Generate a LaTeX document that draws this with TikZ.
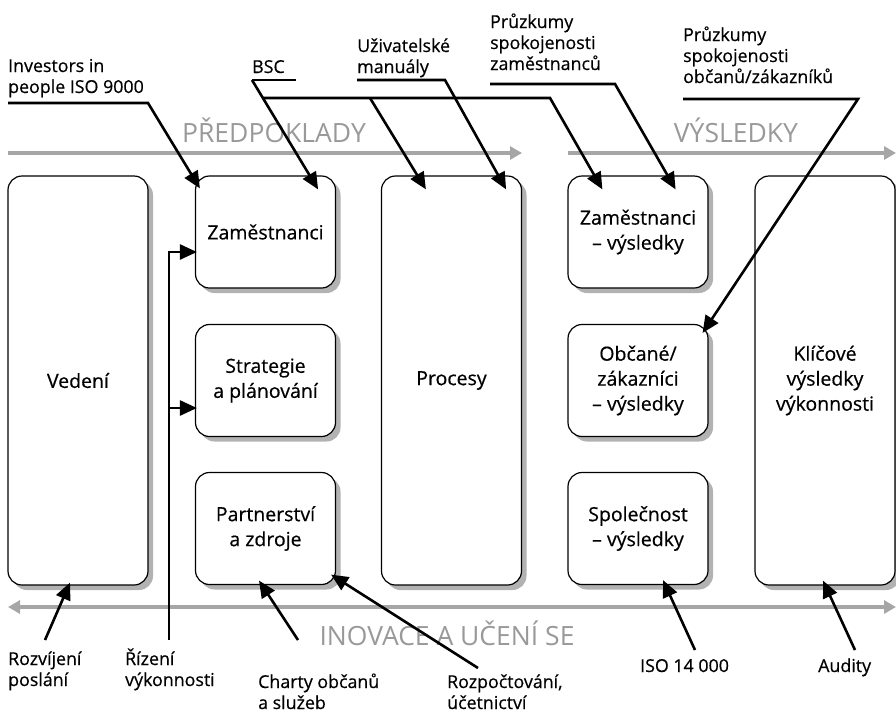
\documentclass[tikz,border=0pt]{standalone}
\usepackage{fontspec}
\setmainfont{Open Sans}
\newfontfamily\darkfamily[UprightFeatures={FakeBold=0.5}]{Open Sans}
\usepackage{tikz}
\usetikzlibrary{arrows.meta,calc,shadows}

\newcommand{\boxfont}{\darkfamily\fontsize{19.5}{25}\selectfont}
\newcommand{\lblfont}{\darkfamily\fontsize{17.8}{21}\selectfont}
\newcommand{\phasefont}{\fontsize{26.5}{30}\selectfont}

\tikzset{
  box/.style={draw, line width=1.2pt, rounded corners=14pt, fill=white,
    minimum width=140pt, align=center, font=\boxfont,
    drop shadow={shadow xshift=5pt, shadow yshift=-5pt, fill=black!30, opacity=1}},
  smallbox/.style={box, minimum height=112pt},
  tallbox/.style={box, minimum height=409pt},
  conn/.style={line width=2.6pt, -{Triangle[length=17pt,width=15pt]}},
  plain/.style={line width=2.6pt},
  lbl/.style={align=left, inner sep=0pt, font=\lblfont, anchor=base west},
  flow/.style={line width=4pt, draw=black!35, -{Triangle[length=12pt,width=13pt]}},
  phase/.style={text=black!40, font=\phasefont, inner sep=0pt, anchor=base}
}

\begin{document}
\begin{tikzpicture}[x=1pt,y=-1pt]
\useasboundingbox (0,0) rectangle (896,713);

% flows
\draw[flow] (8,153) -- (522,153);
\draw[flow] (568,153) -- (896,153);
\draw[flow, {Triangle[length=12pt,width=13pt]}-{Triangle[length=12pt,width=13pt]}] (8,607) -- (896,607);
\node[phase] (pred) at (274,142) {PŘEDPOKLADY};
\node[phase] (vysl) at (736,142) {VÝSLEDKY};
\node[phase] (inov) at (447,645) {INOVACE A UČENÍ SE};

% boxes
\node[tallbox] (vedeni) at (78,380.5) {Vedení};
\node[smallbox] (zam) at (265.5,232) {Zaměstnanci};
\node[smallbox] (strat) at (265.5,380.5) {Strategie\\a plánování};
\node[smallbox] (partner) at (265.5,528.5) {Partnerství\\a zdroje};
\node[tallbox] (proc) at (451.5,380.5) {Procesy};
\node[smallbox] (zamv) at (638,232) {Zaměstnanci\\– výsledky};
\node[smallbox] (obc) at (638,380.5) {Občané/\\zákazníci\\– výsledky};
\node[smallbox] (spol) at (638,528.5) {Společnost\\– výsledky};
\node[tallbox] (klic) at (825,380.5) {Klíčové\\výsledky\\výkonnosti};

% labels top (base = last line)
\node[lbl] (investors) at (8,93) {Investors in\\people ISO 9000};
\node[lbl] (bsc) at (252,73) {BSC};
\node[lbl] (manualy) at (357,73) {Uživatelské\\manuály};
\node[lbl] (pruzam) at (490,70) {Průzkumy\\spokojenosti\\zaměstnanců};
\node[lbl] (pruobc) at (683,83) {Průzkumy\\spokojenosti\\občanů/zákazníků};

% labels bottom
\node[lbl] (rozvoj) at (8,686) {Rozvíjení\\poslání};
\node[lbl] (rizeni) at (125,686) {Řízení\\výkonnosti};
\node[lbl] (charty) at (258,709) {Charty občanů\\a služeb};
\node[lbl] (rozpocet) at (447,709) {Rozpočtování,\\účetnictví};
\node[lbl] (iso) at (640,672) {ISO 14 000};
\node[lbl] (audity) at (818,672) {Audity};

% connectors top
\coordinate (invk) at (148,103);
\draw[conn] (investors.west |- invk) -- (invk) -- ($(zam.north west)+(5,13)$);
\coordinate (bsck) at (252,80);
\draw[plain] (bsck) -- ++(44,0);
\draw[conn] (bsck) -- ($(zam.north east)+(-18,14)$);
\draw[conn] (263,98) -- (550,98) -- ($(zamv.north west)+(35,14)$);
\draw[conn] (370,98) -- ($(proc.north west)+(45,14)$);
\coordinate (manuk) at (445,80);
\draw[conn] (manualy.west |- manuk) -- (manuk) -- ($(proc.north east)+(-16,14)$);
\coordinate (zamk) at (615,84);
\draw[conn] (pruzam.west |- zamk) -- (zamk) -- ($(zamv.north east)+(-33,14)$);
\coordinate (obck) at (858,99);
\draw[conn] (pruobc.west |- obck) -- (obck) -- ($(obc.north east)+(-6,9)$);

% connectors bottom
\draw[conn] (45,640) -- ($(vedeni.south)+(-8,-3)$);
\draw[conn] (169,640) -- (169,252) -- ($(zam.west)+(2,20)$);
\draw[conn] (169,408) -- ($(strat.west)+(2,27.5)$);
\draw[conn] (298,640) -- ($(partner.south)+(-6.5,-4.5)$);
\draw[conn] (478,668) -- ($(partner.south east)+(-5,-10.5)$);
\draw[conn] (695,650) -- ($(spol.south)+(25,-5)$);
\draw[conn] (855,650) -- ($(klic.south)+(-2,-5)$);

\end{tikzpicture}
\end{document}
